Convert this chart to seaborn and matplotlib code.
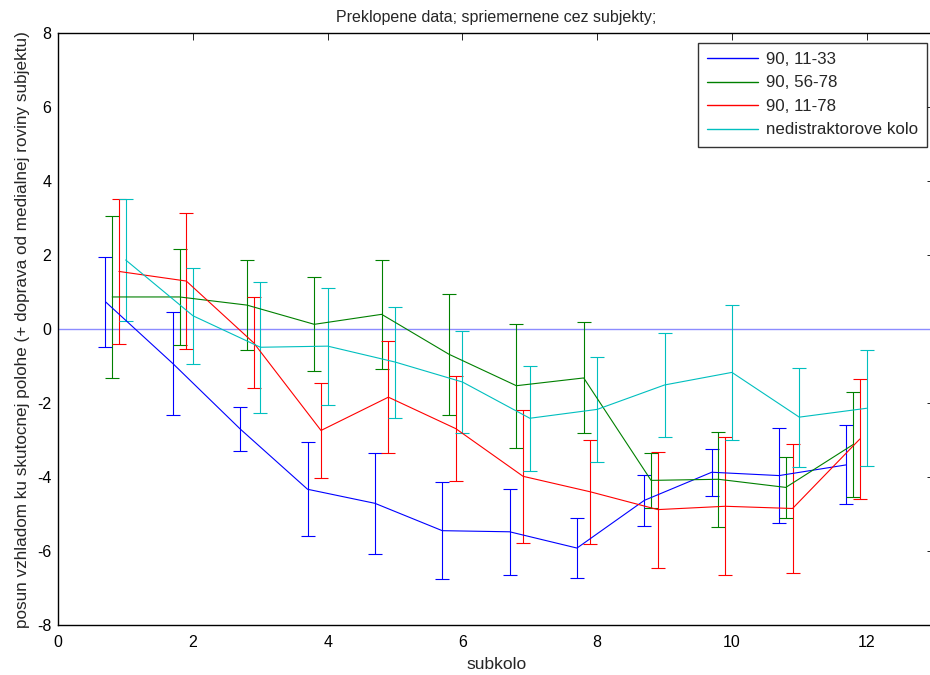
import pandas as pd
import matplotlib
matplotlib.use("Agg")
import matplotlib.pyplot as plt
import seaborn as sns

# subkolo positions (each series is shifted a bit to the left)
subkolo = [1, 2, 3, 4, 5, 6, 7, 8, 9, 10, 11, 12]
shifts = [-0.3, -0.2, -0.1, 0.0]

series_names = ["90, 11-33", "90, 56-78", "90, 11-78", "nedistraktorove kolo"]
series_colors = ["#0000ff", "#008000", "#ff0000", "#00bfbf"]

# means
mean_11_33 = [0.74, -0.93, -2.70, -4.33, -4.71, -5.45, -5.48, -5.92, -4.63, -3.87, -3.96, -3.67]
mean_56_78 = [0.87, 0.87, 0.65, 0.13, 0.40, -0.68, -1.53, -1.32, -4.09, -4.06, -4.28, -3.12]
mean_11_78 = [1.56, 1.30, -0.37, -2.74, -1.84, -2.69, -3.98, -4.40, -4.88, -4.79, -4.85, -2.97]
mean_nedis = [1.87, 0.36, -0.49, -0.46, -0.89, -1.43, -2.41, -2.17, -1.51, -1.17, -2.38, -2.14]

# half-length of the error bars
err_11_33 = [1.21, 1.39, 0.59, 1.27, 1.36, 1.32, 1.16, 0.82, 0.68, 0.63, 1.28, 1.07]
err_56_78 = [2.19, 1.30, 1.22, 1.27, 1.48, 1.64, 1.68, 1.50, 0.74, 1.29, 0.82, 1.41]
err_11_78 = [1.95, 1.84, 1.23, 1.29, 1.52, 1.41, 1.80, 1.41, 1.57, 1.87, 1.75, 1.62]
err_nedis = [1.65, 1.29, 1.77, 1.58, 1.50, 1.39, 1.42, 1.42, 1.41, 1.82, 1.34, 1.57]

means = [mean_11_33, mean_56_78, mean_11_78, mean_nedis]
errs = [err_11_33, err_56_78, err_11_78, err_nedis]

# long table for seaborn
rows = []
for name, shift, m, e in zip(series_names, shifts, means, errs):
    for s, mv, ev in zip(subkolo, m, e):
        rows.append({"subkolo": s + shift, "posun": mv, "err": ev, "serie": name})
df = pd.DataFrame(rows)

sns.set_style("white")
plt.rcParams['font.family'] = ['Liberation Sans', 'DejaVu Sans']
plt.rcParams['axes.unicode_minus'] = False

fig = plt.figure(figsize=(9.3, 6.75), dpi=100)
ax = fig.add_axes([0.0627, 0.0741, 0.9416, 0.8766])

# zero line
ax.axhline(0, color="#8c8cff", lw=1.0, zorder=1)

sns.lineplot(data=df, x="subkolo", y="posun", hue="serie", hue_order=series_names,
             palette=series_colors, linewidth=0.8, sort=False, ax=ax, zorder=3)

for name, color in zip(series_names, series_colors):
    d = df[df["serie"] == name]
    ax.errorbar(d["subkolo"], d["posun"], yerr=d["err"], fmt="none",
                ecolor=color, elinewidth=0.8, capsize=5, capthick=0.8, zorder=2)

ax.set_xlim(0, 13)
ax.set_ylim(-8, 8)
ax.set_xticks(range(0, 13, 2))
ax.set_yticks(range(-8, 9, 2))
ax.tick_params(direction="in", length=5, width=0.6, top=True, right=True,
               labelsize=11.5, colors="black", pad=5)
ax.tick_params(axis="x", pad=7.5)
for sp in ax.spines.values():
    sp.set_color("black")
    sp.set_linewidth(1.0)

ax.set_title("Preklopene data; spriemernene cez subjekty;", fontsize=11.5, pad=8)
ax.set_xlabel("subkolo", fontsize=12.5, labelpad=5)
ax.set_ylabel("posun vzhladom ku skutocnej polohe (+ doprava od medialnej roviny subjektu)",
              fontsize=12.3, labelpad=5)

leg = ax.legend(loc="upper left", bbox_to_anchor=(698 / 930, 1 - 42.7 / 675),
                bbox_transform=fig.transFigure, fontsize=12.2, frameon=True,
                fancybox=False, borderaxespad=0, handlelength=3.0,
                handletextpad=0.45, labelspacing=0.5, borderpad=0.55)
leg.get_frame().set_edgecolor("black")
leg.get_frame().set_linewidth(1.0)
for line in leg.get_lines():
    line.set_linewidth(1.0)

fig.savefig("out.png", dpi=100)
